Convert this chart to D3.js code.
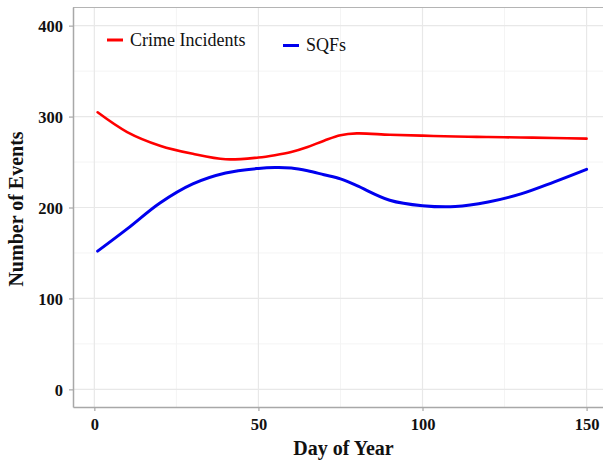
<!DOCTYPE html>
<html>
<head>
<meta charset="utf-8">
<script src="https://cdn.jsdelivr.net/npm/d3@7"></script>
<style>
  html, body { margin: 0; padding: 0; background: #fff; }
  svg { display: block; }
</style>
</head>
<body>
<script>
// Smoothed daily event counts
const days = [1, 10, 20, 30, 40, 50, 55, 60, 65, 70, 75, 80, 90, 100, 110, 120, 130, 140, 150];
const crimeIncidents = [304.7, 283, 268, 259, 253, 255, 257.5, 261, 266.5, 273.5, 279.5, 281.5, 280, 279, 278, 277.5, 277, 276.5, 275.7];
const sqfs = [152, 176.5, 205, 226, 238, 243, 244, 243.5, 240.5, 236, 231.5, 224, 208, 202, 201, 206, 215, 228, 242];
const seriesNames = ["Crime Incidents", "SQFs"];
const seriesColors = ["#ff0000", "#0000ee"];
const xTicks = [0, 50, 100, 150];
const yTicks = [0, 100, 200, 300, 400];
const xMinor = [25, 75, 125];
const yMinor = [50, 150, 250, 350];

const W = 603, H = 461;
const m = { left: 73, top: 7, right: 0, bottom: 54 };

const svg = d3.select("body").append("svg").attr("width", W).attr("height", H);

const x = d3.scaleLinear().domain([-6.5, 155]).range([m.left, W - m.right]);
const y = d3.scaleLinear().domain([-19.4, 420.5]).range([H - m.bottom, m.top]);

const font = "'Liberation Serif', 'Times New Roman', serif";

// grid
const grid = svg.append("g");
grid.selectAll(".xmin").data(xMinor).join("line")
  .attr("x1", d => x(d)).attr("x2", d => x(d)).attr("y1", m.top).attr("y2", H - m.bottom)
  .attr("stroke", "#f4f4f4").attr("stroke-width", 1);
grid.selectAll(".ymin").data(yMinor).join("line")
  .attr("y1", d => y(d)).attr("y2", d => y(d)).attr("x1", m.left).attr("x2", W)
  .attr("stroke", "#f4f4f4").attr("stroke-width", 1);
grid.selectAll(".xmaj").data(xTicks).join("line")
  .attr("x1", d => x(d)).attr("x2", d => x(d)).attr("y1", m.top).attr("y2", H - m.bottom)
  .attr("stroke", "#e8e8e8").attr("stroke-width", 1.2);
grid.selectAll(".ymaj").data(yTicks).join("line")
  .attr("y1", d => y(d)).attr("y2", d => y(d)).attr("x1", m.left).attr("x2", W)
  .attr("stroke", "#e8e8e8").attr("stroke-width", 1.2);

// top border of panel
svg.append("line").attr("x1", m.left).attr("x2", W).attr("y1", m.top + 0.5).attr("y2", m.top + 0.5)
  .attr("stroke", "#b4b4b4").attr("stroke-width", 1.2);

// axes
const xAxis = svg.append("g").attr("transform", `translate(0,${H - m.bottom})`)
  .call(d3.axisBottom(x).tickValues(xTicks).tickSizeInner(4).tickSizeOuter(0).tickPadding(7).tickFormat(d3.format("d")));
const yAxis = svg.append("g").attr("transform", `translate(${m.left},0)`)
  .call(d3.axisLeft(y).tickValues(yTicks).tickSizeInner(4).tickSizeOuter(0).tickPadding(6).tickFormat(d3.format("d")));
[xAxis, yAxis].forEach(a => {
  a.select(".domain").attr("stroke", "#a8a8a8").attr("stroke-width", 1.5);
  a.selectAll(".tick line").attr("stroke", "#a8a8a8").attr("stroke-width", 1.2);
  a.selectAll(".tick text").attr("font-family", font).attr("font-weight", "bold")
    .attr("font-size", 16.5).attr("fill", "#111");
});
yAxis.selectAll(".tick text").attr("dy", "0.35em");

// lines
const line = d3.line().x(d => x(d[0])).y(d => y(d[1])).curve(d3.curveCatmullRom.alpha(0.5));
const series = [crimeIncidents, sqfs];
series.forEach((vals, i) => {
  svg.append("path")
    .datum(days.map((d, j) => [d, vals[j]]))
    .attr("fill", "none")
    .attr("stroke", seriesColors[i])
    .attr("stroke-width", i === 0 ? 2.6 : 3)
    .attr("stroke-linecap", "round")
    .attr("d", line);
});

// legend
const legendPos = [{ x: 107, y: 40 }, { x: 283, y: 45.5 }];
seriesNames.forEach((name, i) => {
  const g = svg.append("g").attr("transform", `translate(${legendPos[i].x},${legendPos[i].y})`);
  g.append("line").attr("x1", 0).attr("x2", 16).attr("y1", 0).attr("y2", 0)
    .attr("stroke", seriesColors[i]).attr("stroke-width", 3);
  g.append("text").attr("x", 23).attr("y", 5.5)
    .attr("font-family", font).attr("font-size", 18).attr("fill", "#111").text(name);
});

// axis titles
svg.append("text").attr("x", 343.5).attr("y", 455).attr("text-anchor", "middle")
  .attr("font-family", font).attr("font-weight", "bold").attr("font-size", 20).attr("fill", "#111")
  .text("Day of Year");
svg.append("text").attr("transform", `translate(23,209) rotate(-90)`).attr("text-anchor", "middle")
  .attr("font-family", font).attr("font-weight", "bold").attr("font-size", 20).attr("fill", "#111")
  .text("Number of Events");
</script>
</body>
</html>
